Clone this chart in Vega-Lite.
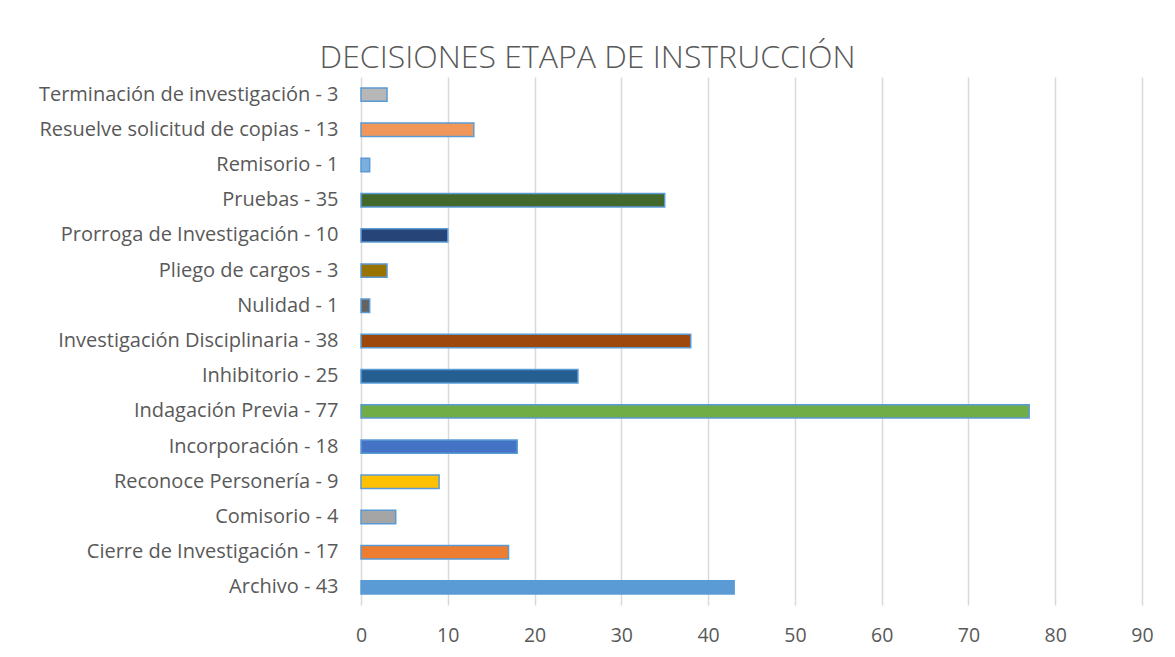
{
  "$schema": "https://vega.github.io/schema/vega-lite/v6.json",
  "width": 781,
  "height": 528,
  "autosize": {"type": "none"},
  "padding": {"left": 361, "top": 77, "right": 33, "bottom": 52},
  "background": "white",
  "title": {
    "text": "DECISIONES ETAPA DE INSTRUCCIÓN",
    "font": "Open Sans",
    "fontWeight": 300,
    "fontSize": 32,
    "color": "#595959",
    "anchor": "middle",
    "frame": "group",
    "dx": -164,
    "offset": 2
  },
  "data": {
    "values": [
      {"categoria": "Terminación de investigación - 3", "valor": 3},
      {"categoria": "Resuelve solicitud de copias - 13", "valor": 13},
      {"categoria": "Remisorio - 1", "valor": 1},
      {"categoria": "Pruebas - 35", "valor": 35},
      {"categoria": "Prorroga de Investigación - 10", "valor": 10},
      {"categoria": "Pliego de cargos - 3", "valor": 3},
      {"categoria": "Nulidad - 1", "valor": 1},
      {"categoria": "Investigación Disciplinaria - 38", "valor": 38},
      {"categoria": "Inhibitorio - 25", "valor": 25},
      {"categoria": "Indagación Previa - 77", "valor": 77},
      {"categoria": "Incorporación - 18", "valor": 18},
      {"categoria": "Reconoce Personería - 9", "valor": 9},
      {"categoria": "Comisorio - 4", "valor": 4},
      {"categoria": "Cierre de Investigación - 17", "valor": 17},
      {"categoria": "Archivo - 43", "valor": 43}
    ]
  },
  "mark": {"type": "bar", "stroke": "#5B9BD5", "strokeWidth": 1.5},
  "encoding": {
    "y": {
      "field": "categoria",
      "type": "nominal",
      "sort": null,
      "scale": {"paddingInner": 0.62, "paddingOuter": 0.31},
      "axis": {
        "title": null,
        "domain": false,
        "ticks": false,
        "grid": false,
        "labelPadding": 23,
        "labelLimit": 0,
        "labelFont": "Open Sans",
        "labelFontSize": 20,
        "labelColor": "#595959"
      }
    },
    "x": {
      "field": "valor",
      "type": "quantitative",
      "scale": {"domain": [0, 90], "nice": false},
      "axis": {
        "title": null,
        "values": [0, 10, 20, 30, 40, 50, 60, 70, 80, 90],
        "domain": false,
        "ticks": false,
        "grid": true,
        "gridColor": "#D9D9D9",
        "gridWidth": 1.5,
        "labelFlush": false,
        "labelPadding": 21,
        "labelFont": "Open Sans",
        "labelFontSize": 19.5,
        "labelColor": "#595959"
      }
    },
    "color": {
      "field": "categoria",
      "type": "nominal",
      "legend": null,
      "scale": {
        "domain": [
          "Terminación de investigación - 3",
          "Resuelve solicitud de copias - 13",
          "Remisorio - 1",
          "Pruebas - 35",
          "Prorroga de Investigación - 10",
          "Pliego de cargos - 3",
          "Nulidad - 1",
          "Investigación Disciplinaria - 38",
          "Inhibitorio - 25",
          "Indagación Previa - 77",
          "Incorporación - 18",
          "Reconoce Personería - 9",
          "Comisorio - 4",
          "Cierre de Investigación - 17",
          "Archivo - 43"
        ],
        "range": [
          "#B7B7B7", "#F1975A", "#7CAFDD", "#43682B", "#264478",
          "#997300", "#636363", "#9E480E", "#255E91", "#70AD47",
          "#4472C4", "#FFC000", "#A5A5A5", "#ED7D31", "#5B9BD5"
        ]
      }
    }
  },
  "config": {"view": {"stroke": null}}
}
